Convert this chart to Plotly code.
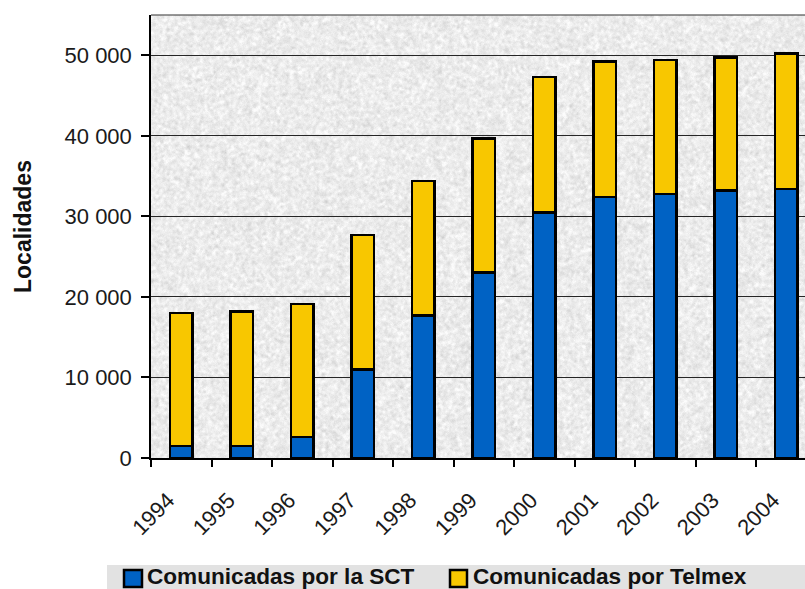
import base64
import struct
import zlib

import numpy as np
import plotly.graph_objects as go

# ---------------- data ----------------
years = ["1994", "1995", "1996", "1997", "1998", "1999", "2000", "2001", "2002", "2003", "2004"]
sct = [1500, 1500, 2600, 11000, 17700, 23000, 30500, 32400, 32800, 33200, 33400]
telmex = [16500, 16700, 16500, 16700, 16700, 16700, 16800, 16800, 16600, 16500, 16800]
y_tickvals = [0, 10000, 20000, 30000, 40000, 50000]
y_ticktext = ["0", "10 000", "20 000", "30 000", "40 000", "50 000"]
series_names = ["Comunicadas por la SCT", "Comunicadas por Telmex"]
y_title = "Localidades"

# ---------------- geometry ----------------
W, H = 805, 589
L, R, T, B = 151, 0, 15, 131
PW, PH = W - L - R, H - T - B


def px2x(px):
    return (px - L) / PW


def px2y(py):
    return (H - B - py) / PH


BLUE = "#0062c4"
YELLOW = "#f8c700"
FONT = "Liberation Sans, Arial, sans-serif"

# ---------------- granite-like background texture ----------------
rng = np.random.default_rng(7)
h2, w2 = PH // 2 + 2, PW // 2 + 2
n = rng.normal(size=(h2, w2))
n = np.repeat(np.repeat(n, 2, axis=0), 2, axis=1)[:PH, :PW]
acc = np.zeros_like(n)
for dy in (-1, 0, 1):
    for dx in (-1, 0, 1):
        acc += np.roll(np.roll(n, dy, 0), dx, 1)
acc /= 9.0
fine = rng.normal(size=(PH, PW)) * 0.5
tex = np.clip(236 + 11 * acc + 5 * fine, 205, 252).astype(np.uint8)


def png_gray(arr):
    hh, ww = arr.shape
    raw = b"".join(b"\x00" + arr[i].tobytes() for i in range(hh))

    def chunk(tag, data):
        c = struct.pack(">I", len(data)) + tag + data
        return c + struct.pack(">I", zlib.crc32(tag + data) & 0xFFFFFFFF)

    sig = b"\x89PNG\r\n\x1a\n"
    ihdr = struct.pack(">IIBBBBB", ww, hh, 8, 0, 0, 0, 0)
    return sig + chunk(b"IHDR", ihdr) + chunk(b"IDAT", zlib.compress(raw, 9)) + chunk(b"IEND", b"")


tex_uri = "data:image/png;base64," + base64.b64encode(png_gray(tex)).decode()

# ---------------- figure ----------------
fig = go.Figure()
fig.add_trace(go.Bar(x=years, y=sct, name=series_names[0], width=0.37,
                     marker=dict(color=BLUE, line=dict(color="black", width=2.6))))
fig.add_trace(go.Bar(x=years, y=telmex, name=series_names[1], width=0.37,
                     marker=dict(color=YELLOW, line=dict(color="black", width=2.6))))

fig.update_layout(
    width=W, height=H,
    margin=dict(l=L, r=R, t=T, b=B, pad=0),
    barmode="stack",
    showlegend=False,
    paper_bgcolor="white",
    plot_bgcolor="rgba(0,0,0,0)",
    font=dict(family=FONT, color="#1a1a1a"),
    images=[dict(source=tex_uri, xref="paper", yref="paper", x=0, y=1,
                 sizex=1, sizey=1, sizing="stretch", xanchor="left", yanchor="top",
                 layer="below")],
)

fig.update_xaxes(
    type="category", range=[-0.5, 10.31],
    tickson="boundaries", ticks="outside", ticklen=7, tickwidth=1.5, tickcolor="black",
    tickangle=-45, tickfont=dict(size=22, family=FONT, color="#1a1a1a"),
    ticklabelstandoff=19, ticklabelshift=-13,
    showline=True, linecolor="black", linewidth=1.5,
    showgrid=False, zeroline=False,
)
fig.update_yaxes(
    range=[0, 55000], tickvals=y_tickvals, ticktext=y_ticktext,
    ticks="outside", ticklen=8, tickwidth=1.5, tickcolor="black",
    tickfont=dict(size=22, family=FONT, color="#1a1a1a"),
    ticklabelstandoff=5,
    showline=True, linecolor="black", linewidth=1.5,
    showgrid=True, gridcolor="#262626", gridwidth=1.3,
    zeroline=False,
)

# top border of the plot area
fig.add_shape(type="line", xref="paper", yref="paper", x0=0, x1=1, y0=1, y1=1,
              line=dict(color="#333333", width=1.2))

# y-axis title
fig.add_annotation(text="<b>%s</b>" % y_title, xref="paper", yref="paper",
                   x=px2x(23), y=px2y(227), xanchor="center", yanchor="middle",
                   textangle=-90, showarrow=False,
                   font=dict(size=23, family=FONT, color="#111111"))

# legend band and entries
fig.add_shape(type="rect", xref="paper", yref="paper",
              x0=px2x(107), x1=px2x(806), y0=px2y(565), y1=px2y(590),
              fillcolor="#e2e2e2", line=dict(width=0), layer="below")
legend_sq = [(124, 142), (450, 467)]
legend_tx = [145, 471]
for (a, b), tx, name, col in zip(legend_sq, legend_tx, series_names, [BLUE, YELLOW]):
    fig.add_shape(type="rect", xref="paper", yref="paper",
                  x0=px2x(a), x1=px2x(b), y0=px2y(570), y1=px2y(587),
                  fillcolor=col, line=dict(color="black", width=2.5))
    fig.add_annotation(text="<b>%s</b>" % name, xref="paper", yref="paper",
                       x=px2x(tx), y=px2y(576.5), xanchor="left", yanchor="middle",
                       showarrow=False, font=dict(size=22.6, family=FONT, color="#111111"))

fig.write_html("out.html")
